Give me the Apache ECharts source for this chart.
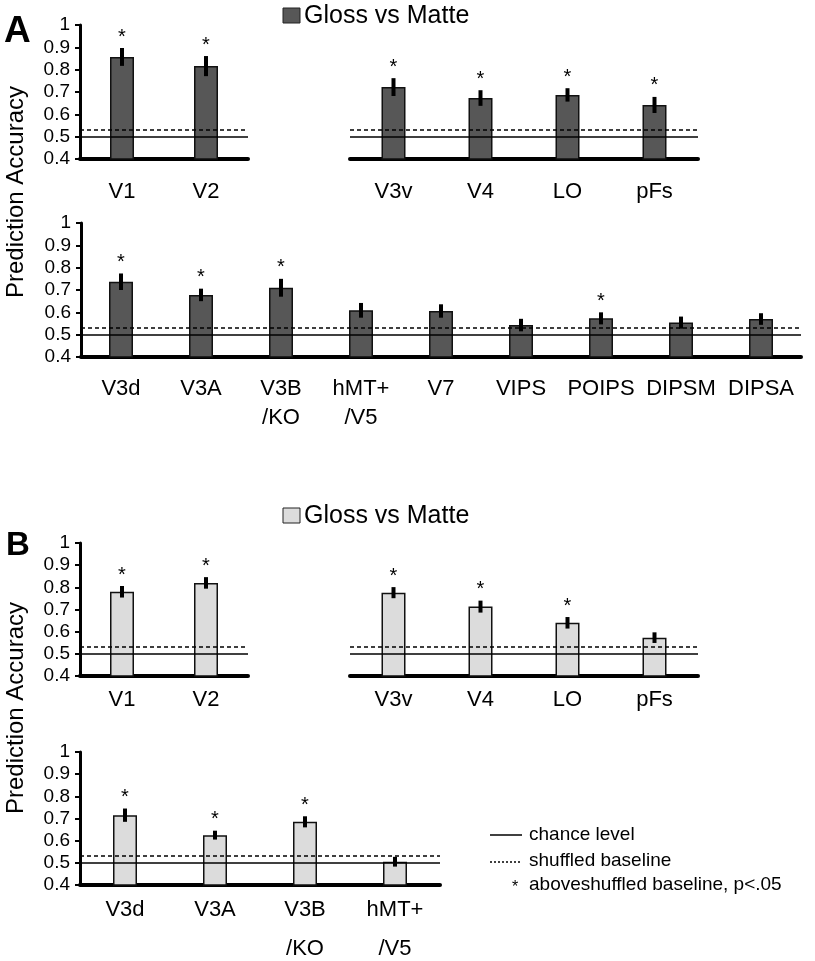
<!DOCTYPE html>
<html><head><meta charset="utf-8">
<script src="https://cdn.jsdelivr.net/npm/echarts@6/dist/echarts.min.js"></script>
<style>html,body{margin:0;padding:0;background:#fff}#c{width:815px;height:961px}</style>
</head><body><div id="c"></div>
<script>
// ---------- DATA ----------
// Panel A (dark bars)
const aTopLeftCats = ['V1', 'V2'];
const aTopLeftVals = [0.857, 0.816];
const aTopLeftErr  = [0.040, 0.045];
const aTopLeftSig  = [1, 1];

const aTopRightCats = ['V3v', 'V4', 'LO', 'pFs'];
const aTopRightVals = [0.722, 0.673, 0.687, 0.642];
const aTopRightErr  = [0.040, 0.035, 0.030, 0.036];
const aTopRightSig  = [1, 1, 1, 1];

const aBottomCats = ['V3d', 'V3A', 'V3B\n/KO', 'hMT+\n/V5', 'V7', 'VIPS', 'POIPS', 'DIPSM', 'DIPSA'];
const aBottomVals = [0.737, 0.678, 0.710, 0.609, 0.606, 0.543, 0.573, 0.554, 0.570];
const aBottomErr  = [0.037, 0.028, 0.040, 0.033, 0.030, 0.028, 0.027, 0.027, 0.026];
const aBottomSig  = [1, 1, 1, 0, 0, 0, 1, 0, 0];

// Panel B (light bars)
const bTopLeftCats = ['V1', 'V2'];
const bTopLeftVals = [0.780, 0.820];
const bTopLeftErr  = [0.026, 0.026];
const bTopLeftSig  = [1, 1];

const bTopRightCats = ['V3v', 'V4', 'LO', 'pFs'];
const bTopRightVals = [0.776, 0.713, 0.640, 0.573];
const bTopRightErr  = [0.025, 0.027, 0.026, 0.024];
const bTopRightSig  = [1, 1, 1, 0];

const bBottomCats = ['V3d', 'V3A', 'V3B\n/KO', 'hMT+\n/V5'];
const bBottomVals = [0.715, 0.625, 0.685, 0.505];
const bBottomErr  = [0.030, 0.020, 0.025, 0.022];
const bBottomSig  = [1, 1, 1, 0];

const chanceLevel = 0.5;
const shuffledA = 0.53;
const shuffledB = 0.525;

const yMin = 0.4, yMax = 1.0, yStep = 0.1;
const seriesTitle = 'Gloss vs Matte';
const yTitle = 'Prediction Accuracy';
const legendTexts = ['chance level', 'shuffled baseline', 'aboveshuffled baseline, p<.05'];

// ---------- STYLE / LAYOUT ----------
const FONT = '"Liberation Sans", Arial, Helvetica, sans-serif';
const colA = '#575757';
const colB = '#dcdcdc';

const panels = [
  { cats: aTopLeftCats, vals: aTopLeftVals, err: aTopLeftErr, sig: aTopLeftSig, shuffled: shuffledA, color: colA,
    grid: { left: 80, top: 25, width: 168, height: 134 }, showY: true, margin: 21, lh: 24 },
  { cats: aTopRightCats, vals: aTopRightVals, err: aTopRightErr, sig: aTopRightSig, shuffled: shuffledA, color: colA,
    grid: { left: 350, top: 25, width: 348, height: 134 }, showY: false, margin: 21, lh: 24 },
  { cats: aBottomCats, vals: aBottomVals, err: aBottomErr, sig: aBottomSig, shuffled: shuffledA, color: colA,
    grid: { left: 81, top: 223, width: 720, height: 134 }, showY: true, margin: 17, lh: 29 },
  { cats: bTopLeftCats, vals: bTopLeftVals, err: bTopLeftErr, sig: bTopLeftSig, shuffled: shuffledB, color: colB,
    grid: { left: 80, top: 543, width: 168, height: 133 }, showY: true, margin: 12, lh: 24 },
  { cats: bTopRightCats, vals: bTopRightVals, err: bTopRightErr, sig: bTopRightSig, shuffled: shuffledB, color: colB,
    grid: { left: 350, top: 543, width: 348, height: 133 }, showY: false, margin: 12, lh: 24 },
  { cats: bBottomCats, vals: bBottomVals, err: bBottomErr, sig: bBottomSig, shuffled: shuffledB, color: colB,
    grid: { left: 80, top: 752, width: 360, height: 133 }, showY: true, margin: 5, lh: 39 }
];

const grids = [], xAxes = [], yAxes = [], series = [];
panels.forEach((p, k) => {
  grids.push(Object.assign({ containLabel: false, outerBoundsMode: 'none' }, p.grid));
  xAxes.push({
    type: 'category', gridIndex: k, data: p.cats, boundaryGap: true,
    axisLine: { onZero: false, lineStyle: { color: '#000', width: 4 } },
    axisTick: { show: false },
    axisLabel: { interval: 0, color: '#000', fontSize: 22, fontFamily: FONT, margin: p.margin, lineHeight: p.lh }
  });
  yAxes.push({
    type: 'value', gridIndex: k, min: yMin, max: yMax, interval: yStep, show: p.showY,
    axisLine: { show: true, lineStyle: { color: '#000', width: 3 } },
    axisTick: { show: true, length: 5, lineStyle: { color: '#000', width: 2 } },
    splitLine: { show: false },
    axisLabel: { color: '#000', fontSize: 19, fontFamily: FONT, margin: 10,
      formatter: v => String(Math.round(v * 10) / 10) }
  });
  series.push({
    type: 'bar', name: seriesTitle, xAxisIndex: k, yAxisIndex: k, data: p.vals, barWidth: 24,
    itemStyle: { color: p.color, borderColor: '#111', borderWidth: 1.5 },
    silent: true, z: 2,
    markLine: {
      silent: true, symbol: 'none', label: { show: false }, z: 3,
      data: [
        { yAxis: chanceLevel, lineStyle: { color: '#000', width: 1.5, type: 'solid' } },
        { yAxis: p.shuffled, lineStyle: { color: '#000', width: 1.5, type: [4, 3] } }
      ]
    }
  });
  series.push({
    type: 'custom', xAxisIndex: k, yAxisIndex: k, silent: true, z: 5,
    data: p.vals.map((v, i) => [i, v, p.err[i], p.sig[i]]),
    encode: { x: 0, y: 1 },
    renderItem: (params, api) => {
      const i = api.value(0), v = api.value(1), e = api.value(2), s = api.value(3);
      const top = api.coord([i, v + e]);
      const bot = api.coord([i, v - e]);
      const children = [{
        type: 'line',
        shape: { x1: top[0], y1: top[1], x2: bot[0], y2: bot[1] },
        style: { stroke: '#000', lineWidth: 4 }
      }];
      if (s) {
        children.push({
          type: 'text', x: top[0], y: top[1] - 11,
          style: { text: '*', fontSize: 20, fontFamily: FONT, fill: '#000', align: 'center', verticalAlign: 'middle' }
        });
      }
      return { type: 'group', children };
    }
  });
});

function legendBox(y, color) {
  return [
    { type: 'rect', shape: { x: 283, y: y - 7, width: 17, height: 15 },
      style: { fill: color, stroke: '#222', lineWidth: 1 } },
    { type: 'text', x: 304, y: y + 1,
      style: { text: seriesTitle, fontSize: 25, fontFamily: FONT, fill: '#000', align: 'left', verticalAlign: 'middle' } }
  ];
}
function yTitleText(cy) {
  return { type: 'text', x: 16, y: cy, rotation: Math.PI / 2,
    style: { text: yTitle, fontSize: 24, fontFamily: FONT, fill: '#000', align: 'center', verticalAlign: 'middle' } };
}

const graphics = [
  { type: 'text', x: 4, y: 32, style: { text: 'A', fontSize: 37, fontWeight: 'bold', fontFamily: FONT, fill: '#000', verticalAlign: 'middle' } },
  { type: 'text', x: 6, y: 546, style: { text: 'B', fontSize: 33, fontWeight: 'bold', fontFamily: FONT, fill: '#000', verticalAlign: 'middle' } },
  ...legendBox(15, colA),
  ...legendBox(515, colB),
  yTitleText(192),
  yTitleText(708),
  { type: 'line', shape: { x1: 490, y1: 835, x2: 522, y2: 835 }, style: { stroke: '#000', lineWidth: 1.5 } },
  { type: 'line', shape: { x1: 490, y1: 862, x2: 522, y2: 862 }, style: { stroke: '#000', lineWidth: 1.5, lineDash: [2, 2] } },
  { type: 'text', x: 515, y: 888, style: { text: '*', fontSize: 16, fontFamily: FONT, fill: '#000', align: 'center', verticalAlign: 'middle' } },
  { type: 'text', x: 529, y: 835, style: { text: legendTexts[0], fontSize: 19, fontFamily: FONT, fill: '#000', verticalAlign: 'middle' } },
  { type: 'text', x: 529, y: 861, style: { text: legendTexts[1], fontSize: 19, fontFamily: FONT, fill: '#000', verticalAlign: 'middle' } },
  { type: 'text', x: 529, y: 885, style: { text: legendTexts[2], fontSize: 19, fontFamily: FONT, fill: '#000', verticalAlign: 'middle' } }
];

const chart = echarts.init(document.getElementById('c'), null, { renderer: 'canvas' });
chart.setOption({
  animation: false,
  backgroundColor: '#fff',
  textStyle: { fontFamily: FONT },
  grid: grids, xAxis: xAxes, yAxis: yAxes, series: series,
  graphic: graphics
});
</script>
</body></html>
